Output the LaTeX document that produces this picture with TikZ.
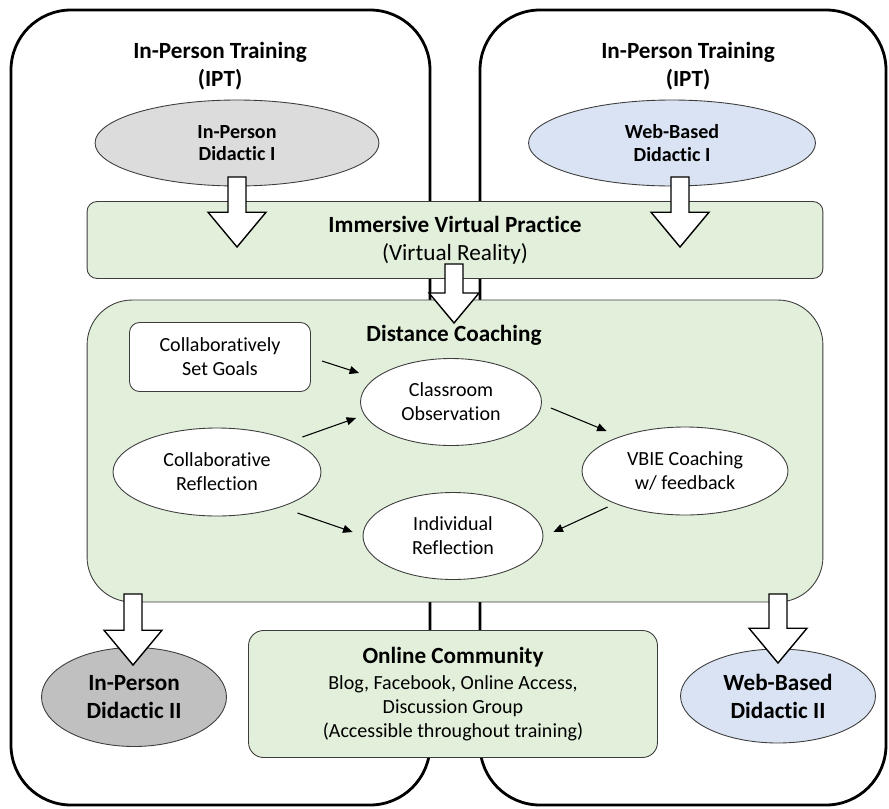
\documentclass[tikz,border=0pt]{standalone}
\usepackage{fontspec}
\setmainfont{Carlito}[Ligatures=NoCommon]
\usepackage{tikz}
\usetikzlibrary{arrows.meta,positioning,calc,shapes.geometric}

\definecolor{boxgreen}{HTML}{E2EFDA}
\definecolor{ipgrey}{HTML}{DCDCDC}
\definecolor{ipdark}{HTML}{C0C0C0}
\definecolor{webblue}{HTML}{DAE3F3}
\definecolor{rim}{HTML}{3C3C3C}

\newcommand{\bodysize}{\fontsize{11.4}{13.6}\selectfont}
\newcommand{\headsize}{\fontsize{13.2}{15.9}\selectfont}

% hollow block arrow from #2 straight down to #3, #1 = half width of the head
\newcommand{\fatarrow}[3][29]{%
  \draw[fat] ($(#2)+(-9,0)$) -- ($(#2)+(9,0)$) -- ($(#3)+(9,-1.2*#1)$) -- ($(#3)+(#1,-1.2*#1)$)
    -- (#3) -- ($(#3)+(-#1,-1.2*#1)$) -- ($(#3)+(-9,-1.2*#1)$) -- cycle;}

\begin{document}
\begin{tikzpicture}[x=0.02cm, y=-0.02cm, font=\bodysize]
  \tikzstyle{track}=[draw, line width=1.6pt, rounded corners=1.2cm]
  \tikzstyle{tracktitle}=[font=\headsize\bfseries, align=center]
  \tikzstyle{panel}=[draw=rim, fill=boxgreen, line width=0.5pt, align=center]
  \tikzstyle{oval}=[ellipse, draw=rim, fill=white, line width=0.5pt, align=center, inner sep=0pt]
  \tikzstyle{link}=[-{Triangle[length=1.9mm,width=1.6mm]}, line width=0.6pt]
  \tikzstyle{fat}=[draw=black, fill=white, line width=0.8pt]
  \useasboundingbox (0,0) rectangle (889,808);

  % the two training tracks
  \draw[track] (11,10) rectangle (430,805);
  \draw[track] (480,10) rectangle (886,805);
  \node[tracktitle] (t1) at (220,66) {In-Person Training\\(IPT)};
  \node[tracktitle] (t2) at (688,66) {In-Person Training\\(IPT)};

  \node[oval, fill=ipgrey, minimum width=5.68cm, minimum height=1.72cm,
        font=\fontsize{11.4}{13}\selectfont\bfseries] (ipd1) at (237,143) {In-Person\\Didactic I};
  \node[oval, fill=webblue, minimum width=5.74cm, minimum height=1.72cm,
        font=\fontsize{11.4}{13}\selectfont\bfseries] (wbd1) at (672,143) {Web-Based\\Didactic I};

  % shared stages
  \node[panel, rounded corners=0.2cm, minimum width=14.72cm, minimum height=1.54cm,
        font=\headsize] (ivp) at (455,240) {\textbf{Immersive Virtual Practice}\\(Virtual Reality)};
  \node[panel, rounded corners=0.9cm, minimum width=14.72cm, minimum height=6.04cm] (dc) at (455,451) {};
  \node[font=\headsize\bfseries] (dct) at (454,335) {Distance Coaching};

  % coaching cycle
  \node[draw=rim, fill=white, line width=0.5pt, rounded corners=0.2cm, minimum width=3.62cm,
        minimum height=1.38cm, align=center] (csg) at (220,357) {Collaboratively\\Set Goals};
  \node[oval, minimum width=3.62cm, minimum height=1.74cm] (co) at (451,402) {Classroom\\Observation};
  \node[oval, minimum width=4.12cm, minimum height=1.76cm] (vbie) at (685,471) {VBIE Coaching\\w/ feedback};
  \node[oval, minimum width=3.6cm, minimum height=1.74cm] (ir) at (453,536) {Individual\\Reflection};
  \node[oval, minimum width=4.16cm, minimum height=1.76cm] (cr) at (217,472) {Collaborative\\Reflection};

  \draw[link] ([shift={(11,4)}]csg.east) -- ([shift={(-1,-29)}]co.west);
  \draw[link] ([shift={(-19,-35)}]cr.east) -- ([shift={(-4,16)}]co.west);
  \draw[link] ([shift={(9,6)}]co.east) -- ([shift={(25,-40)}]vbie.west);
  \draw[link] ([shift={(26,36)}]vbie.west) -- ([shift={(10,-4)}]ir.east);
  \draw[link] ([shift={(-24,41)}]cr.east) -- ([shift={(-10,-4)}]ir.west);

  % community box and final didactics
  \node[panel, rounded corners=0.3cm, minimum width=8.18cm, minimum height=2.54cm] (oc) at (453,694) {};
  \node[font=\headsize\bfseries] (oct) at (453,657) {Online Community};
  \node[align=center] (ocb) at (453,708) {Blog, Facebook, Online Access,\\Discussion Group\\(Accessible throughout training)};

  \node[oval, fill=ipdark, minimum width=3.7cm, minimum height=1.98cm,
        font=\headsize\bfseries] (ipd2) at (134,697) {In-Person\\Didactic II};
  \node[oval, fill=webblue, minimum width=3.9cm, minimum height=1.88cm,
        font=\headsize\bfseries] (wbd2) at (778,696) {Web-Based\\Didactic II};

  % block arrows between stages
  \coordinate (a1s) at (237,177); \coordinate (a1e) at (237,247);
  \coordinate (a2s) at (680,177); \coordinate (a2e) at (680,247);
  \coordinate (a3s) at (454,264); \coordinate (a3e) at (454,323);
  \coordinate (a4s) at (133,594); \coordinate (a4e) at (133,665);
  \coordinate (a5s) at (778,594); \coordinate (a5e) at (778,663);
  \fatarrow{a1s}{a1e}
  \fatarrow{a2s}{a2e}
  \fatarrow[25]{a3s}{a3e}
  \fatarrow{a4s}{a4e}
  \fatarrow{a5s}{a5e}
\end{tikzpicture}
\end{document}
